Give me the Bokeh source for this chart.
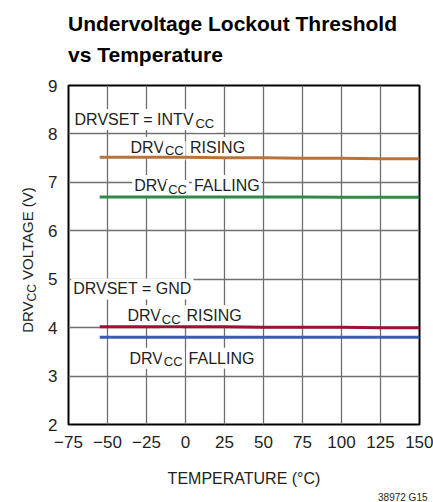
from bokeh.plotting import figure
from bokeh.models import Label, FixedTicker, Range1d, Title, Div
from bokeh.layouts import row, column
from bokeh.embed import file_html
from bokeh.resources import INLINE

# ---------------- data ----------------
temps = [-55, -25, 0, 25, 50, 75, 100, 125, 150]
intv_rising = [7.52, 7.52, 7.52, 7.51, 7.51, 7.50, 7.50, 7.49, 7.49]
intv_falling = [6.70, 6.70, 6.70, 6.70, 6.70, 6.70, 6.69, 6.69, 6.69]
gnd_rising = [4.02, 4.02, 4.02, 4.02, 4.01, 4.01, 4.01, 4.00, 4.00]
gnd_falling = [3.80, 3.80, 3.80, 3.80, 3.80, 3.80, 3.80, 3.80, 3.80]

x_ticks = [-75, -50, -25, 0, 25, 50, 75, 100, 125, 150]
x_tick_labels = ["\u221275", "\u221250", "\u221225", "0", "25", "50", "75", "100", "125", "150"]
y_ticks = [2, 3, 4, 5, 6, 7, 8, 9]

title_lines = ["Undervoltage Lockout Threshold", "vs Temperature"]
x_title = "TEMPERATURE (\u00b0C)"
y_title_parts = ["DRV", "CC", " VOLTAGE (V)"]
footnote = "38972 G15"

# ---------------- styles ----------------
FONT = "'Liberation Sans', Arial, sans-serif"
TXT = "#231f20"
C_OR = "#b8733a"
C_GR = "#2f8a4a"
C_RD = "#9a1236"
C_BL = "#3b5cb0"

LEFT_W = 40
TOP_H = 75

# ---------------- title block ----------------
title_div = Div(
    width=433, height=TOP_H, margin=0,
    text=('<div style="padding:8px 0 0 68px;margin:0;font-family:' + FONT.replace("'", "&#39;") +
          ';font-weight:bold;font-size:21px;line-height:31px;color:#000;white-space:nowrap;">'
          + title_lines[0] + "<br>" + title_lines[1] + "</div>"))

# ---------------- main plot ----------------
p = figure(width=433 - LEFT_W, height=502 - TOP_H, output_backend="svg", toolbar_location=None,
           x_range=Range1d(-75, 150), y_range=Range1d(2, 9), margin=0,
           min_border_left=68 - LEFT_W, min_border_right=14, min_border_top=85 - TOP_H,
           min_border_bottom=67)
p.title.visible = False

for vals, col in [(intv_rising, C_OR), (intv_falling, C_GR), (gnd_rising, C_RD), (gnd_falling, C_BL)]:
    p.line(temps, vals, line_color=col, line_width=3)

p.outline_line_color = "black"
p.outline_line_width = 2
p.background_fill_color = "white"
p.border_fill_color = "white"

p.xgrid.ticker = FixedTicker(ticks=x_ticks)
p.ygrid.ticker = FixedTicker(ticks=y_ticks)
for g in (p.xgrid, p.ygrid):
    g.grid_line_color = "#6f6f6f"
    g.grid_line_width = 1.3

p.xaxis.ticker = FixedTicker(ticks=x_ticks)
p.yaxis.ticker = FixedTicker(ticks=y_ticks)
p.xaxis.major_label_overrides = {t: s for t, s in zip(x_ticks, x_tick_labels)}
for ax in (p.xaxis, p.yaxis):
    ax.axis_line_color = None
    ax.major_tick_line_color = None
    ax.minor_tick_line_color = None
    ax.major_label_text_font = FONT
    ax.major_label_text_font_size = "17px"
    ax.major_label_text_color = TXT
p.xaxis.major_label_standoff = 5
p.yaxis.major_label_standoff = 5
p.xaxis.axis_label = x_title
p.xaxis.axis_label_text_font = FONT
p.xaxis.axis_label_text_font_size = "16px"
p.xaxis.axis_label_text_font_style = "normal"
p.xaxis.axis_label_text_color = TXT
p.xaxis.axis_label_standoff = 19

# footnote
p.add_layout(Title(text=footnote, text_font=FONT, text_font_size="10px", text_font_style="normal",
                   text_color=TXT, align="right", offset=-8, standoff=0), "below")


def lab(x, y, text, size="16px"):
    l = Label(x=x, y=y, text=text, text_font=FONT, text_font_size=size,
              text_color=TXT, text_baseline="alphabetic", level="underlay",
              background_fill_color="white", padding=2)
    p.add_layout(l)
    return l

# in-plot labels (DRVSET = INTVCC group)
lab(-72.4, 8.30, "DRVSET = INTV")
lab(5.1, 8.22, "CC", size="13px")
lab(-36.5, 7.72, "DRV")
lab(-14.5, 7.654, "CC", size="13px")
lab(1.6, 7.72, "RISING")
lab(-34.2, 6.934, "DRV")
lab(-12.4, 6.854, "CC", size="13px")
lab(4.1, 6.934, "FALLING")

# DRVSET = GND group
lab(-73.3, 4.80, "DRVSET = GND")
lab(-38.5, 4.246, "DRV")
lab(-16.5, 4.166, "CC", size="13px")
lab(-0.6, 4.246, "RISING")
lab(-37.2, 3.366, "DRV")
lab(-15.2, 3.30, "CC", size="13px")
lab(0.7, 3.366, "FALLING")

# ---------------- y-axis title (rotated, with subscript) ----------------
frame_mid = (85 - TOP_H) + 175
ylab_div = Div(
    width=LEFT_W, height=502 - TOP_H, margin=0,
    text=('<div style="position:relative;width:%dpx;height:%dpx;margin:0;padding:0;">'
          '<div style="position:absolute;left:27px;top:%dpx;transform:translate(-50%%,-50%%) rotate(-90deg);'
          'white-space:nowrap;font-family:&#39;Liberation Sans&#39;,Arial,sans-serif;font-size:15px;'
          'line-height:17px;color:%s;">%s<sub style="font-size:12px;vertical-align:-3px;line-height:0;">%s</sub>%s</div></div>'
          % (LEFT_W, 502 - TOP_H, frame_mid, TXT, y_title_parts[0], y_title_parts[1],
             y_title_parts[2].replace(" ", "&nbsp;", 1))))

body = row(ylab_div, p, spacing=0, margin=0)
layout = column(title_div, body, spacing=0, margin=0)
open("out.html", "w").write(file_html(layout, INLINE))
